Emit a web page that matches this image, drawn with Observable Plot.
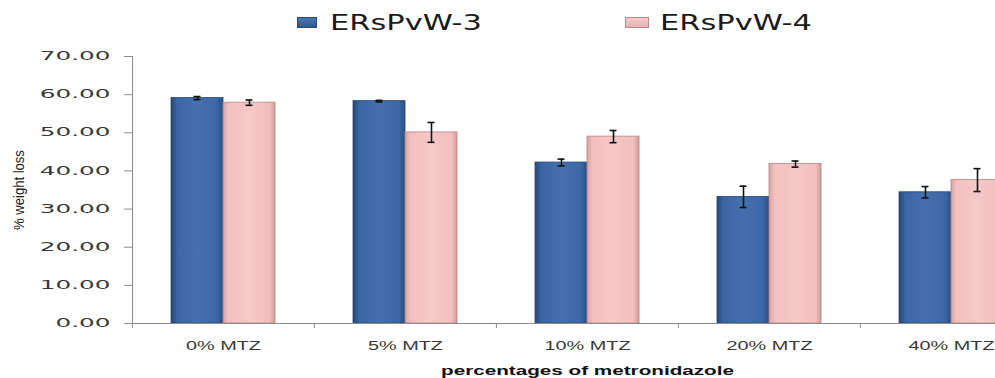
<!DOCTYPE html>
<html>
<head>
<meta charset="utf-8">
<script src="https://cdn.jsdelivr.net/npm/d3@7"></script>
<script src="https://cdn.jsdelivr.net/npm/@observablehq/plot@0.6"></script>
<style>
  html, body { margin: 0; padding: 0; background: #fff; overflow: hidden; }
  #wrap { position: relative; width: 995px; height: 378px; overflow: hidden; }
  #legend { position: relative; height: 40px; width: 995px; }
  #chart svg { max-width: none !important; display: block; }
  .sw { position: absolute; top: 17px; height: 11px; box-sizing: border-box; }
  .lt { position: absolute; top: 11px; font-family: "DejaVu Sans", sans-serif; font-size: 20.5px; color: #1a1a1a;
        white-space: nowrap; transform-origin: 0 0; line-height: 24px; }
  #ylabel { position: absolute; left: 18px; top: 190px; width: 0; height: 0; }
  #ylabel span { position: absolute; left: 0; top: 0; white-space: nowrap; font-family: "Liberation Sans", sans-serif;
        font-size: 15px; color: #1a1a1a; transform: translate(-50%, -50%) rotate(-90deg) scaleX(0.87); line-height: 15px; }
</style>
</head>
<body>
<div id="wrap">
  <div id="legend"></div>
  <div id="chart"></div>
  <div id="ylabel"><span></span></div>
</div>
<script>
const categories = ["0% MTZ", "5% MTZ", "10% MTZ", "20% MTZ", "40% MTZ"];
const series = ["ERsPvW-3", "ERsPvW-4"];
const values3 = [59.1, 58.3, 42.2, 33.2, 34.4];
const errors3 = [0.4, 0.2, 0.9, 2.8, 1.5];
const values4 = [57.9, 50.1, 49.0, 41.8, 37.6];
const errors4 = [0.7, 2.6, 1.6, 0.8, 3.0];
const yTicks = [0, 10, 20, 30, 40, 50, 60, 70];
const yLabel = "% weight loss";
const xLabel = "percentages of metronidazole";

const data = [];
categories.forEach((c, i) => {
  data.push({cat: c, series: series[0], value: values3[i], err: errors3[i]});
  data.push({cat: c, series: series[1], value: values4[i], err: errors4[i]});
});
const d3s = data.filter(d => d.series === series[0]);
const d4s = data.filter(d => d.series === series[1]);

const W = 1042, H = 338, ML = 131, MR = 0, MT = 16, MB = 55;
const step = (W - ML - MR) / categories.length;

const plot = Plot.plot({
  width: W, height: H,
  marginLeft: ML, marginRight: MR, marginTop: MT, marginBottom: MB,
  style: {fontFamily: "DejaVu Sans, sans-serif", fontSize: "11.5px", background: "#fff", color: "#404040", maxWidth: "none"},
  fx: {domain: categories, padding: 0},
  x: {domain: series, paddingInner: 0, paddingOuter: 0.717, axis: null},
  y: {domain: [0, 70]},
  marks: [
    Plot.axisY({ticks: yTicks, tickSize: 8, tickPadding: 14, tickFormat: d3.format(".2f"),
      stroke: "#8c8c8c", fill: "#383838", label: null}),
    Plot.frame({anchor: "left", stroke: "#8c8c8c", facetAnchor: "left"}),
    Plot.axisFx({anchor: "bottom", tickSize: 0, tickPadding: 18, fill: "#383838", fontSize: "12.5px",
      fontFamily: "Liberation Sans, sans-serif", label: null}),
    Plot.axisFx({anchor: "bottom", tickSize: 0, tickFormat: () => "", label: xLabel, labelAnchor: "center",
      labelOffset: 51, labelArrow: "none", fontSize: "12.5px", fontWeight: "bold",
      fontFamily: "Liberation Sans, sans-serif", fill: "#111"}),
    Plot.axisFx({anchor: "bottom", tickSize: 5, tickFormat: () => "", label: null, dx: -step / 2, stroke: "#8c8c8c"}),
    Plot.barY(d3s, {fx: "cat", x: "series", y: "value", fill: "url(#gBlue)", stroke: "#2a4873", strokeWidth: 0.8}),
    Plot.barY(d4s, {fx: "cat", x: "series", y: "value", fill: "url(#gPink)", stroke: "#b88686", strokeWidth: 0.8}),
    Plot.ruleY([0], {stroke: "#8c8c8c"}),
    Plot.ruleX(data, {fx: "cat", x: "series", y1: d => d.value - d.err, y2: d => d.value + d.err, stroke: "#111", strokeWidth: 1.6}),
    Plot.tickY(data, {fx: "cat", x: "series", y: d => d.value - d.err, stroke: "#111", strokeWidth: 1.6, insetLeft: 22.5, insetRight: 22.5}),
    Plot.tickY(data, {fx: "cat", x: "series", y: d => d.value + d.err, stroke: "#111", strokeWidth: 1.6, insetLeft: 22.5, insetRight: 22.5})
  ]
});
document.getElementById("chart").appendChild(plot);
document.querySelector("#ylabel span").textContent = yLabel;

// gradients for bar fills
const svg = d3.select(plot);
const defs = svg.insert("defs", ":first-child");
function grad(id, stops) {
  const g = defs.append("linearGradient").attr("id", id).attr("x1", 0).attr("x2", 1).attr("y1", 0).attr("y2", 0);
  stops.forEach(([o, c]) => g.append("stop").attr("offset", o).attr("stop-color", c));
}
grad("gBlue", [[0, "#264878"], [0.12, "#3a66a4"], [0.5, "#4471ae"], [0.88, "#3c68a5"], [1, "#2a4e82"]]);
grad("gPink", [[0, "#d6a2a2"], [0.1, "#f2bfbf"], [0.5, "#f6c8c8"], [0.9, "#f2bfbf"], [1, "#cf9a9a"]]);

const allText = Array.from(plot.querySelectorAll("text"));
allText.filter(n => n.textContent === xLabel).forEach(n => {
  n.style.fontSize = "12.5px";
  n.style.fontWeight = "bold";
  n.style.fontFamily = "Liberation Sans, sans-serif";
  n.style.fill = "#111";
});

// Horizontal stretching of text (reference is stretched horizontally)
function stretchNodes(nodes, refTarget) {
  nodes = Array.from(nodes).filter(n => n.textContent.length > 0);
  if (!nodes.length) return;
  const k = refTarget / nodes[0].getComputedTextLength();
  nodes.forEach(n => {
    const L = n.getComputedTextLength();
    n.setAttribute("textLength", L * k);
    n.setAttribute("lengthAdjust", "spacingAndGlyphs");
  });
}
stretchNodes(allText.filter(n => /^\d+\.\d\d$/.test(n.textContent)), 55);
stretchNodes(allText.filter(n => categories.includes(n.textContent)), 75);
stretchNodes(allText.filter(n => n.textContent === xLabel), 293);

// Legend
const legend = document.getElementById("legend");
const legendSpec = [
  {name: series[0], swLeft: 297, swW: 20, fill: "linear-gradient(#4a77b2, #2f5a92)", border: "1px solid #2a4873", textLeft: 330},
  {name: series[1], swLeft: 625, swW: 24, fill: "linear-gradient(#f7cccc, #e9b2b2)", border: "1.5px solid #b98a8a", textLeft: 660}
];
legendSpec.forEach(s => {
  const sw = document.createElement("div");
  sw.className = "sw";
  sw.style.left = s.swLeft + "px";
  sw.style.width = s.swW + "px";
  sw.style.background = s.fill;
  sw.style.border = s.border;
  legend.appendChild(sw);
  const t = document.createElement("div");
  t.className = "lt";
  t.textContent = s.name;
  t.style.left = s.textLeft + "px";
  legend.appendChild(t);
  const w = t.getBoundingClientRect().width;
  t.style.transform = `scaleX(${152 / w})`;
});
</script>
</body>
</html>
